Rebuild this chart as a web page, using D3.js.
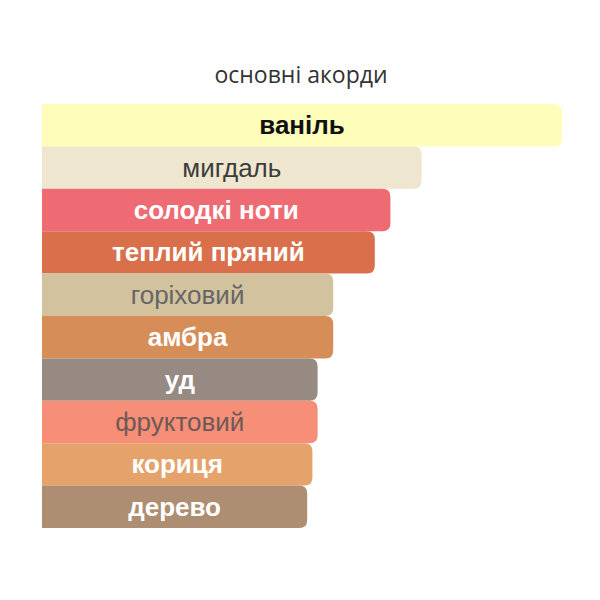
<!DOCTYPE html>
<html>
<head>
<meta charset="utf-8">
<script src="https://cdn.jsdelivr.net/npm/d3@7"></script>
<style>
  body { margin: 0; background: #fff; }
</style>
</head>
<body>
<svg id="chart" width="600" height="600"></svg>
<script>
// main accords, top to bottom
var accords = ["ваніль", "мигдаль", "солодкі ноти", "теплий пряний", "горіховий",
               "амбра", "уд", "фруктовий", "кориця", "дерево"];
var strength = [100, 73, 67, 64, 56, 56, 53, 53, 52, 51];
var barColors = ["#fffdba", "#efe6d0", "#ee6b73", "#d9704b", "#d2c39e",
                 "#d68d58", "#968a82", "#f68e78", "#e5a26a", "#ae8e72"];
var textColors = ["#111", "#3c3c3c", "#fff", "#fff", "#666",
                  "#fff", "#fff", "#6e5a55", "#fff", "#fff"];
var textWeights = ["bold", "normal", "bold", "bold", "normal",
                   "bold", "bold", "normal", "bold", "bold"];

var title = "основні акорди";

var svg = d3.select("#chart");

var x = d3.scaleLinear()
	.domain([0, 100])
	.range([42, 562]);

var y = d3.scaleBand()
	.domain(accords)
	.range([104, 528])
	.padding(0);

var radius = 8;

function barPath(d, i) {
	var x0 = x(0), x1 = x(strength[i]),
		y0 = y(d), y1 = y(d) + y.bandwidth();
	var r = Math.min(radius, (x1 - x0) / 2);
	return "M" + x0 + "," + y0 +
		"H" + (x1 - r) +
		"Q" + x1 + "," + y0 + " " + x1 + "," + (y0 + r) +
		"V" + (y1 - r) +
		"Q" + x1 + "," + y1 + " " + (x1 - r) + "," + y1 +
		"H" + x0 + "Z";
}

svg.append("text")
	.attr("x", 301)
	.attr("y", 83)
	.attr("text-anchor", "middle")
	.style("font-family", "'Open Sans', sans-serif")
	.style("font-size", "23px")
	.style("fill", "#333")
	.text(title);

var bars = svg.selectAll("g.accord")
	.data(accords)
	.enter()
	.append("g")
	.attr("class", "accord");

bars.append("path")
	.attr("d", barPath)
	.attr("fill", function(d, i) { return barColors[i]; });

bars.append("text")
	.attr("x", function(d, i) { return (x(0) + x(strength[i])) / 2; })
	.attr("y", function(d) { return y(d) + y.bandwidth() / 2 + 9; })
	.attr("text-anchor", "middle")
	.style("font-family", "'Liberation Sans', Arial, sans-serif")
	.style("font-size", "26px")
	.style("font-weight", function(d, i) { return textWeights[i]; })
	.style("fill", function(d, i) { return textColors[i]; })
	.text(function(d) { return d; });
</script>
</body>
</html>
